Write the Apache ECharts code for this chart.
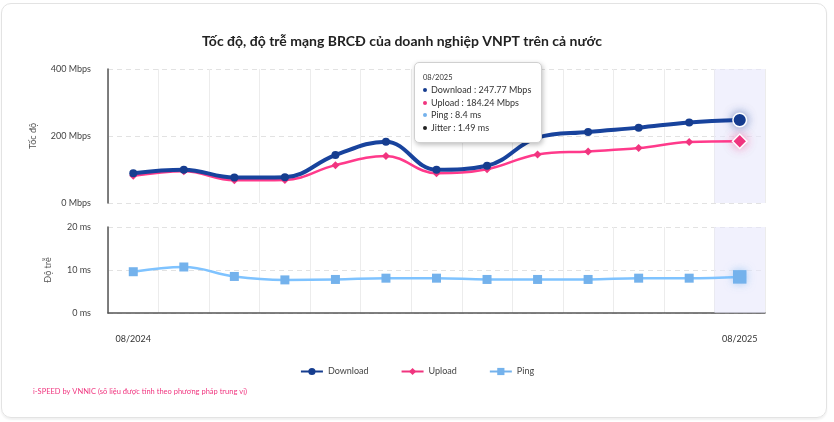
<!DOCTYPE html>
<html>
<head>
<meta charset="utf-8">
<script src="https://cdn.jsdelivr.net/npm/echarts@6/dist/echarts.min.js"></script>
<style>
	body { margin: 0; background: #fff; }
	#card {
		position: absolute; left: 1px; top: 3px; width: 824px; height: 413px;
		border: 1.5px solid #e3e3e3; border-radius: 10px;
		box-shadow: 0 2px 2px rgba(0,0,0,0.06);
	}
	#main { position: absolute; left: 0; top: 0; width: 834px; height: 422px; }
</style>
</head>
<body>
<div id="card"></div>
<div id="main"></div>
<script>
// dữ liệu theo tháng
var months = ['08/2024','09/2024','10/2024','11/2024','12/2024','01/2025','02/2025',
	'03/2025','04/2025','05/2025','06/2025','07/2025','08/2025'];
var download = [89, 99, 76, 77, 143, 183, 99, 111, 195, 212, 225, 240.6, 247.77];
var upload = [81, 95, 68, 69, 113, 140, 89, 101, 145, 154, 164, 182, 184.24];
var ping = [9.6, 10.7, 8.5, 7.7, 7.8, 8.1, 8.1, 7.8, 7.8, 7.8, 8.1, 8.1, 8.4];
// jitter chi doc duoc thang cuoi
var jitter = [null, null, null, null, null, null, null, null, null, null, null, null, 1.49];
var speedTicks = [0, 200, 400];
var delayTicks = [0, 10, 20];

var cDown = '#163d8f', cUp = '#f0357f', cPing = '#74b2ec';
var font = 'Lato, "Noto Sans", sans-serif';

var myChart = echarts.init(document.getElementById('main'));

function dot(c) {
	return "<span style='display:inline-block;width:4px;height:4px;border-radius:2px;background:" + c + ";margin:0 4px 1px 0;vertical-align:middle'></span>";
}

myChart.setOption({
	animation: false,
	textStyle: { fontFamily: font },
	title: {
		text: 'Tốc độ, độ trễ mạng BRCĐ của doanh nghiệp VNPT trên cả nước',
		left: 397, top: 29, textAlign: 'center',
		textStyle: { fontSize: 14, fontWeight: 'bold', color: '#222', fontFamily: font }
	},
	legend: {
		bottom: 41, left: 'center', itemWidth: 22, itemHeight: 9, itemGap: 32,
		textStyle: { fontSize: 9, color: '#444' },
		data: ['Download', 'Upload', 'Ping']
	},
	tooltip: {
		trigger: 'axis',
		alwaysShowContent: true,
		position: [414, 62],
		backgroundColor: '#fff',
		borderColor: '#d0d0d0',
		borderWidth: 1,
		padding: [9, 10, 8, 8],
		extraCssText: 'box-shadow:1px 2px 5px rgba(0,0,0,0.25);border-radius:5px;',
		axisPointer: { type: 'shadow', z: 1, shadowStyle: { color: 'rgba(232,232,252,0.6)' } },
		formatter: function (params) {
			var i = params[0].dataIndex;
			var s = "<div style='font-size:7.5px;color:#333;line-height:12px'>" + months[i] + "</div>";
			s += "<div style='font-size:9px;color:#333;line-height:12.5px'>";
			s += dot(cDown) + 'Download : ' + download[i] + ' Mbps<br>';
			s += dot(cUp) + 'Upload : ' + upload[i] + ' Mbps<br>';
			s += dot(cPing) + 'Ping : ' + ping[i] + ' ms';
			if (jitter[i] != null) {
				s += '<br>' + dot('#222') + 'Jitter : ' + jitter[i] + ' ms';
			}
			s += '</div>';
			return s;
		}
	},
	axisPointer: { z: 1, link: [{ xAxisIndex: 'all' }] },
	graphic: [{
		type: 'text', left: 33, top: 388,
		style: {
			text: 'i-SPEED by VNNIC (số liệu được tính theo phương pháp trung vị)',
			fill: cUp, fontSize: 7.5, fontFamily: font
		}
	}],
	grid: [
		{ left: 108, right: 69, top: 69, height: 134 },
		{ left: 108, right: 69, top: 227, height: 86 }
	],
	xAxis: [
		{
			type: 'category', gridIndex: 0, data: months,
			axisLine: { show: false }, axisTick: { show: false }, axisLabel: { show: false },
			splitLine: { show: true, interval: 0, lineStyle: { color: '#ececec' } }
		},
		{
			type: 'category', gridIndex: 1, data: months,
			axisLine: { lineStyle: { color: '#555', width: 1.5 } },
			axisTick: { show: false },
			axisLabel: {
				margin: 22, fontSize: 9, color: '#333',
				interval: function (index) { return index === 0 || index === months.length - 1; }
			},
			splitLine: { show: true, interval: 0, lineStyle: { color: '#ececec' } }
		}
	],
	yAxis: [
		{
			type: 'value', gridIndex: 0, min: speedTicks[0], max: speedTicks[2], interval: speedTicks[1],
			name: 'Tốc độ', nameLocation: 'middle', nameGap: 70,
			nameTextStyle: { fontSize: 9, color: '#555' },
			axisLine: { show: true, lineStyle: { color: '#555', width: 1.5 } },
			axisTick: { show: false },
			axisLabel: { formatter: '{value} Mbps', fontSize: 9, color: '#444', margin: 17 },
			splitLine: { lineStyle: { color: '#e2e2e2', type: [5, 4] } }
		},
		{
			type: 'value', gridIndex: 1, min: delayTicks[0], max: delayTicks[2], interval: delayTicks[1],
			name: 'Độ trễ', nameLocation: 'middle', nameGap: 55,
			nameTextStyle: { fontSize: 9, color: '#555' },
			axisLine: { show: true, lineStyle: { color: '#555', width: 1.5 } },
			axisTick: { show: false },
			axisLabel: { formatter: '{value} ms', fontSize: 9, color: '#444', margin: 17 },
			splitLine: { lineStyle: { color: '#e2e2e2', type: [5, 4] } }
		}
	],
	series: [
		{
			name: 'Download', type: 'line', xAxisIndex: 0, yAxisIndex: 0, data: download,
			smooth: 0.4, symbol: 'circle', symbolSize: 8,
			lineStyle: { color: cDown, width: 4 }, itemStyle: { color: cDown },
			emphasis: { scale: 1.7, itemStyle: { color: cDown, opacity: 1, borderColor: '#fff', borderWidth: 1.5, shadowBlur: 10, shadowColor: 'rgba(22,61,143,0.55)' } },
			z: 3
		},
		{
			name: 'Upload', type: 'line', xAxisIndex: 0, yAxisIndex: 0, data: upload,
			smooth: 0.4, symbol: 'diamond', symbolSize: 8,
			lineStyle: { color: cUp, width: 2.5 }, itemStyle: { color: cUp },
			emphasis: { scale: 1.8, itemStyle: { color: cUp, opacity: 1, borderColor: '#fff', borderWidth: 1.5, shadowBlur: 10, shadowColor: 'rgba(240,53,127,0.5)' } },
			z: 2
		},
		{
			name: 'Ping', type: 'line', xAxisIndex: 1, yAxisIndex: 1, data: ping,
			smooth: 0.4, symbol: 'rect', symbolSize: 9,
			lineStyle: { color: cPing, width: 2.5 }, itemStyle: { color: cPing },
			emphasis: { scale: 1.5, itemStyle: { color: cPing, opacity: 1, shadowBlur: 8, shadowColor: 'rgba(116,178,236,0.6)' } }
		}
	]
});

myChart.dispatchAction({ type: 'showTip', seriesIndex: 0, dataIndex: months.length - 1 });
</script>
</body>
</html>
